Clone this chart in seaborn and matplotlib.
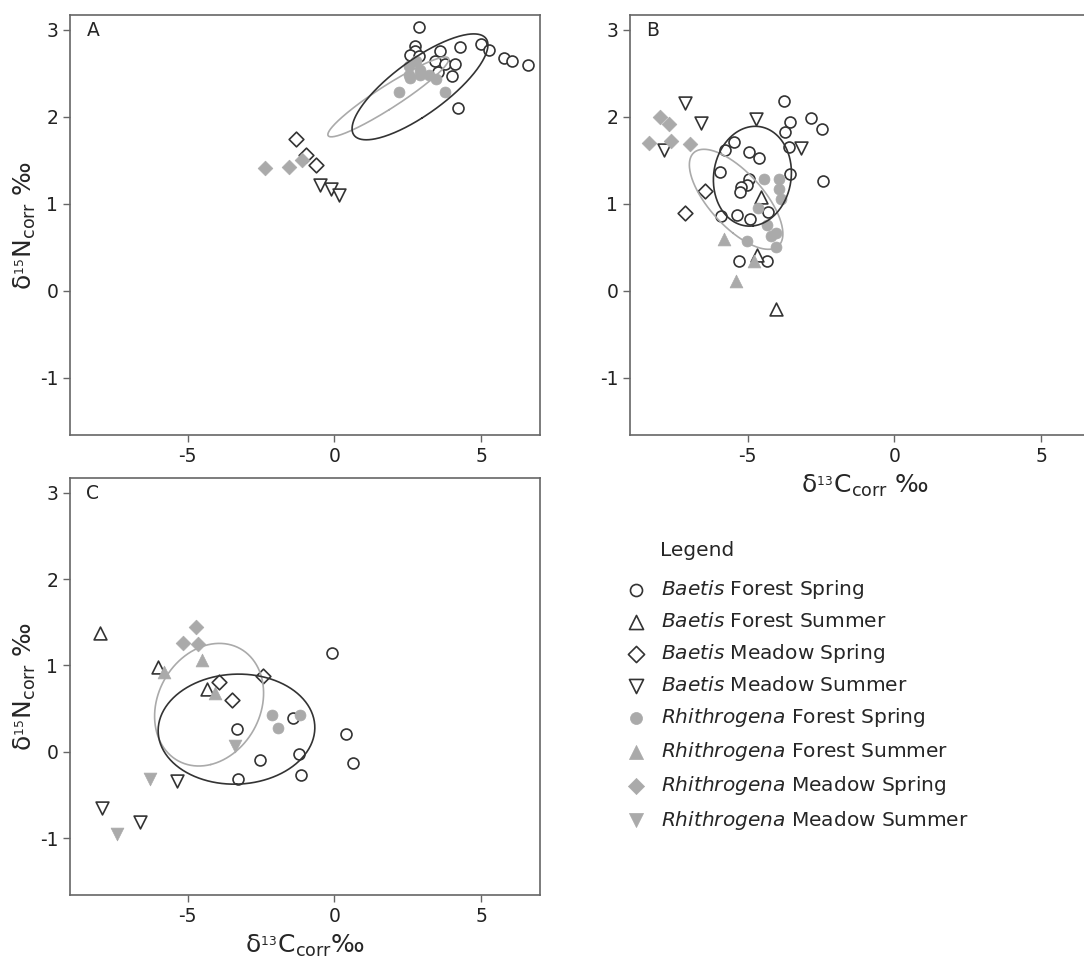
import numpy as np
import pandas as pd
import matplotlib
matplotlib.use("Agg")
import matplotlib.pyplot as plt
import seaborn as sns

sns.set_theme(style="white")
plt.rcParams['font.family'] = ['DejaVu Sans']
plt.rcParams['mathtext.default'] = 'regular'
plt.rcParams['axes.unicode_minus'] = False

# ---- Panel A ----
a_bfsp_x = [2.88, 2.73, 2.73, 2.56, 2.87, 3.58, 4.26, 4.99, 5.28, 5.78, 6.05, 6.58, 3.44, 3.75, 4.09, 3.52, 4.00, 4.20]
a_bfsp_y = [3.03, 2.81, 2.76, 2.71, 2.70, 2.76, 2.80, 2.84, 2.77, 2.67, 2.64, 2.59, 2.64, 2.61, 2.61, 2.52, 2.47, 2.10]
a_bmsp_x = [-1.29, -0.95, -0.64]
a_bmsp_y = [1.74, 1.56, 1.44]
a_bmsu_x = [-0.50, -0.10, 0.15]
a_bmsu_y = [1.21, 1.17, 1.10]
a_rfsp_x = [2.79, 2.53, 2.53, 2.56, 2.93, 2.93, 3.21, 3.47, 2.19, 3.75]
a_rfsp_y = [2.64, 2.58, 2.48, 2.44, 2.54, 2.48, 2.48, 2.43, 2.28, 2.28]
a_rmsp_x = [-2.37, -1.54, -1.10]
a_rmsp_y = [1.41, 1.42, 1.50]

# ---- Panel B ----
b_bfsp_x = [-3.77, -3.54, -3.74, -2.85, -2.45, -2.43, -3.59, -3.57, -5.47, -5.76, -4.94, -4.60,
            -5.92, -4.94, -5.03, -5.23, -5.27, -5.89, -5.36, -4.90, -4.31, -5.29, -4.34]
b_bfsp_y = [2.18, 1.94, 1.83, 1.98, 1.86, 1.26, 1.65, 1.34, 1.71, 1.62, 1.59, 1.52,
            1.36, 1.28, 1.22, 1.19, 1.13, 0.86, 0.87, 0.82, 0.90, 0.34, 0.34]
b_bfsu_x = [-4.55, -4.69, -4.02]
b_bfsu_y = [1.08, 0.41, -0.21]
b_bmsp_x = [-6.45, -7.13]
b_bmsp_y = [1.15, 0.89]
b_bmsu_x = [-7.13, -6.59, -7.85, -4.72, -3.17]
b_bmsu_y = [2.16, 1.93, 1.62, 1.97, 1.64]
b_rfsp_x = [-4.44, -3.92, -3.94, -3.85, -4.63, -4.34, -4.03, -4.21, -5.03, -4.03]
b_rfsp_y = [1.28, 1.28, 1.17, 1.05, 0.95, 0.75, 0.66, 0.63, 0.57, 0.50]
b_rfsu_x = [-5.81, -4.78, -5.38]
b_rfsu_y = [0.59, 0.34, 0.11]
b_rmsp_x = [-7.99, -7.68, -8.34, -7.60, -6.97]
b_rmsp_y = [2.00, 1.92, 1.70, 1.72, 1.69]

# ---- Panel C ----
c_bfsp_x = [-0.07, 0.39, 0.64, -1.41, -3.31, -2.54, -1.20, -1.12, -3.28]
c_bfsp_y = [1.14, 0.20, -0.13, 0.39, 0.26, -0.10, -0.03, -0.27, -0.32]
c_bfsu_x = [-7.98, -6.01, -4.33]
c_bfsu_y = [1.37, 0.98, 0.73]
c_bmsp_x = [-3.93, -3.50, -2.43]
c_bmsp_y = [0.81, 0.60, 0.88]
c_bmsu_x = [-5.37, -7.90, -6.63]
c_bmsu_y = [-0.34, -0.65, -0.82]
c_rfsp_x = [-2.14, -1.92, -1.16]
c_rfsp_y = [0.43, 0.27, 0.42]
c_rfsu_x = [-4.49, -5.81, -4.08]
c_rfsu_y = [1.06, 0.92, 0.68]
c_rmsp_x = [-4.72, -5.15, -4.65]
c_rmsp_y = [1.44, 1.26, 1.25]
c_rmsu_x = [-3.39, -6.28, -7.39]
c_rmsu_y = [0.07, -0.32, -0.95]

group_order = [("Baetis", "Forest", "Spring"), ("Baetis", "Forest", "Summer"),
               ("Baetis", "Meadow", "Spring"), ("Baetis", "Meadow", "Summer"),
               ("Rhithrogena", "Forest", "Spring"), ("Rhithrogena", "Forest", "Summer"),
               ("Rhithrogena", "Meadow", "Spring"), ("Rhithrogena", "Meadow", "Summer")]

panels = {
    "A": {0: (a_bfsp_x, a_bfsp_y), 2: (a_bmsp_x, a_bmsp_y), 3: (a_bmsu_x, a_bmsu_y),
          4: (a_rfsp_x, a_rfsp_y), 6: (a_rmsp_x, a_rmsp_y)},
    "B": {0: (b_bfsp_x, b_bfsp_y), 1: (b_bfsu_x, b_bfsu_y), 2: (b_bmsp_x, b_bmsp_y),
          3: (b_bmsu_x, b_bmsu_y), 4: (b_rfsp_x, b_rfsp_y), 5: (b_rfsu_x, b_rfsu_y),
          6: (b_rmsp_x, b_rmsp_y)},
    "C": {0: (c_bfsp_x, c_bfsp_y), 1: (c_bfsu_x, c_bfsu_y), 2: (c_bmsp_x, c_bmsp_y),
          3: (c_bmsu_x, c_bmsu_y), 4: (c_rfsp_x, c_rfsp_y), 5: (c_rfsu_x, c_rfsu_y),
          6: (c_rmsp_x, c_rmsp_y), 7: (c_rmsu_x, c_rmsu_y)},
}

rows = []
for panel, groups in panels.items():
    for gi, (xs, ys) in groups.items():
        genus, site, season = group_order[gi]
        for x, y in zip(xs, ys):
            rows.append(dict(panel=panel, genus=genus, site=site, season=season, x=x, y=y))
df = pd.DataFrame(rows)

marker_map = {("Forest", "Spring"): "o", ("Forest", "Summer"): "^",
              ("Meadow", "Spring"): "D", ("Meadow", "Summer"): "v"}
size_map = {"o": 62, "^": 85, "D": 56, "v": 85}
gray = "#aaaaaa"
dark = "#333333"


def std_ellipse(x, y, n=300):
    pts = np.column_stack([x, y])
    mu = pts.mean(axis=0)
    vals, vecs = np.linalg.eigh(np.cov(pts.T))
    t = np.linspace(0, 2 * np.pi, n)
    circ = np.column_stack([np.cos(t), np.sin(t)]) * np.sqrt(vals)
    e = circ @ vecs.T + mu
    return e[:, 0], e[:, 1]


fig = plt.figure(figsize=(10.84, 9.65), dpi=100)
W, H = 1084, 965
aw, ah = 470 / W, 420 / H
ax_a = fig.add_axes([70 / W, 1 - 435 / H, aw, ah])
ax_b = fig.add_axes([630 / W, 1 - 435 / H, aw, ah])
ax_c = fig.add_axes([70 / W, 1 - 895 / H, aw, 417 / H])

for ax, panel in zip([ax_a, ax_b, ax_c], ["A", "B", "C"]):
    sub = df[df.panel == panel]
    for genus, site, season in group_order:
        g = sub[(sub.genus == genus) & (sub.site == site) & (sub.season == season)]
        if g.empty:
            continue
        m = marker_map[(site, season)]
        if genus == "Baetis":
            kw = dict(color="white", edgecolor=dark, linewidth=1.2)
        else:
            kw = dict(color=gray, edgecolor=gray, linewidth=0.5)
        sns.scatterplot(data=g, x="x", y="y", marker=m, s=size_map[m], ax=ax,
                        label=f"$\\it{{{genus}}}$ {site} {season}", zorder=3, **kw)
    for genus, col in [("Rhithrogena", gray), ("Baetis", dark)]:
        g = sub[sub.genus == genus]
        ex, ey = std_ellipse(g.x.values, g.y.values)
        ax.plot(ex, ey, color=col, lw=1.2, zorder=4)

    ax.set_xlim(-9, 7)
    ax.set_ylim(-1.66, 3.17)
    ax.set_xticks([-5, 0, 5])
    ax.set_yticks([-1, 0, 1, 2, 3])
    ax.tick_params(axis="both", which="both", direction="out", length=5, width=1,
                   color="#666666", labelsize=13.5, labelcolor="#222222", bottom=True, left=True)
    for sp in ax.spines.values():
        sp.set_color("#666666")
        sp.set_linewidth(1.2)
    ax.set_xlabel("")
    ax.set_ylabel("")
    ax.text(0.035, 0.985, panel, transform=ax.transAxes, ha="left", va="top", fontsize=13.5)

handles, labels = ax_c.get_legend_handles_labels()
for ax in [ax_a, ax_b, ax_c]:
    if ax.get_legend() is not None:
        ax.get_legend().remove()

ylab = "δ$^{_{15}}$N$_{corr}$ ‰"
ax_a.set_ylabel(ylab, fontsize=18, labelpad=1)
ax_c.set_ylabel(ylab, fontsize=18, labelpad=1)
ax_b.set_xlabel("δ$^{_{13}}$C$_{corr}$ ‰", fontsize=18, labelpad=5)
ax_c.set_xlabel("δ$^{_{13}}$C$_{corr}$‰", fontsize=18, labelpad=5)

fig.text(660 / W, 1 - 550 / H, "Legend", fontsize=14.5, ha="left", va="center")
fig.legend(handles, labels, loc="upper left", bbox_to_anchor=(626 / W, 1 - 578 / H),
           frameon=False, fontsize=14.5, handlelength=1.0, handletextpad=0.75,
           labelspacing=0.55, borderpad=0, borderaxespad=0, markerscale=1.1)

fig.savefig("out.png", dpi=100)
